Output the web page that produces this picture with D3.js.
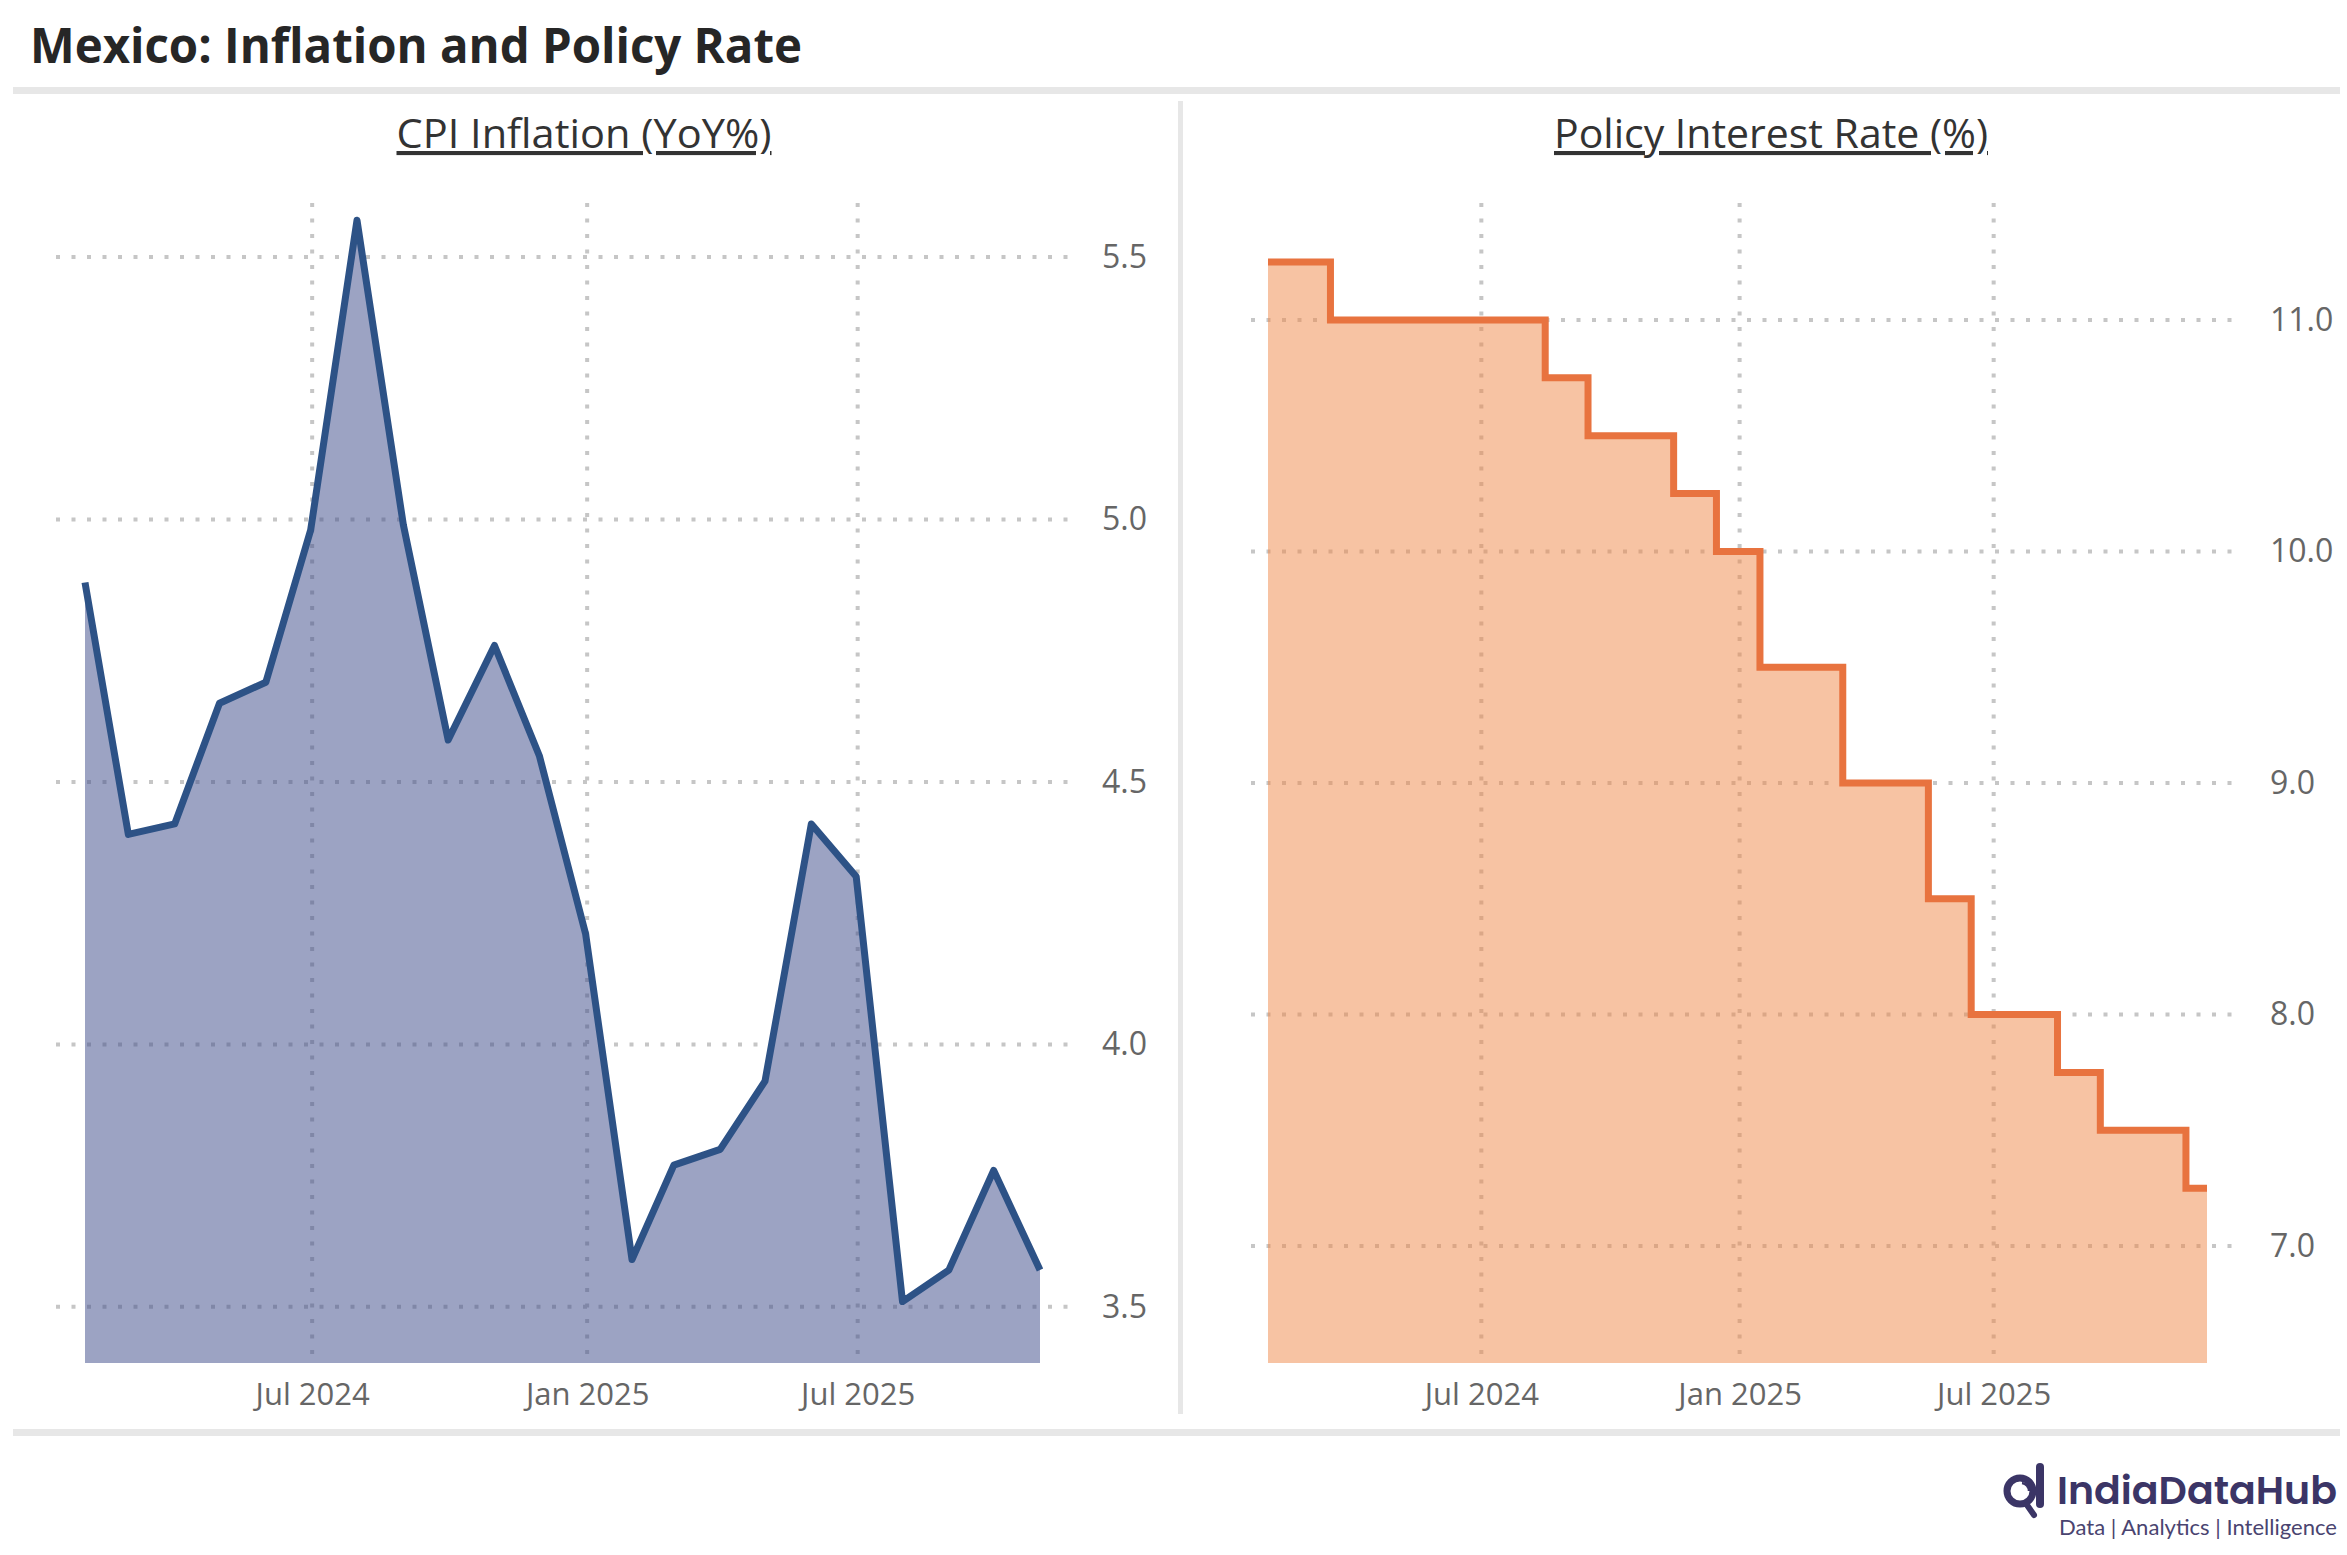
<!DOCTYPE html>
<html>
<head>
  <meta charset="utf-8" />
  <title>Mexico: Inflation and Policy Rate</title>
  <script src="https://cdn.jsdelivr.net/npm/d3@7"></script>
  <style>
    body { margin: 0; background: #fff; }
    svg { display: block; font-family: "Open Sans", "Noto Sans", sans-serif; }
  </style>
</head>
<body>
<script>
// CPI inflation, YoY % (monthly, month-end)
var cpiMonths = ["2024-01","2024-02","2024-03","2024-04","2024-05","2024-06","2024-07","2024-08",
  "2024-09","2024-10","2024-11","2024-12","2025-01","2025-02","2025-03","2025-04","2025-05",
  "2025-06","2025-07","2025-08","2025-09","2025-10"];
var cpiValues = [4.88, 4.40, 4.42, 4.65, 4.69, 4.98, 5.57, 4.99, 4.58, 4.76, 4.55, 4.21,
  3.59, 3.77, 3.80, 3.93, 4.42, 4.32, 3.51, 3.57, 3.76, 3.57];

// Policy interest rate, %
var rateMonths = ["2024-01","2024-02","2024-03","2024-04","2024-05","2024-06","2024-07","2024-08",
  "2024-09","2024-10","2024-11","2024-12","2025-01","2025-02","2025-03","2025-04","2025-05",
  "2025-06","2025-07","2025-08","2025-09","2025-10","2025-11"];
var rateValues = [11.25, 11.25, 11.0, 11.0, 11.0, 11.0, 11.0, 10.75, 10.5, 10.5, 10.25, 10.0,
  9.5, 9.5, 9.0, 9.0, 8.5, 8.0, 8.0, 7.75, 7.5, 7.5, 7.25];

var xTicks = ["2024-07-01", "2025-01-01", "2025-07-01"];
var cpiTicks = [3.5, 4.0, 4.5, 5.0, 5.5];
var rateTicks = [7.0, 8.0, 9.0, 10.0, 11.0];

var W = 2347, H = 1555;
var parseMonth = d3.timeParse("%Y-%m");
var parseDay = d3.timeParse("%Y-%m-%d");
function monthEnd(m) {
  return d3.timeDay.offset(d3.timeMonth.offset(parseMonth(m), 1), -1);
}

var svg = d3.select("body").append("svg")
  .attr("width", W)
  .attr("height", H);

function setWidth(sel, w) {
  sel.attr("textLength", w).attr("lengthAdjust", "spacingAndGlyphs");
}

// title + rules
svg.append("text")
  .attr("x", 30).attr("y", 63)
  .attr("font-size", 48).attr("font-weight", 700)
  .attr("fill", "#262626")
  .text("Mexico: Inflation and Policy Rate")
  .call(setWidth, 772);

svg.append("rect").attr("x", 13).attr("y", 87).attr("width", 2327).attr("height", 7).attr("fill", "#e7e7e7");
svg.append("rect").attr("x", 13).attr("y", 1429).attr("width", 2327).attr("height", 7).attr("fill", "#e7e7e7");
svg.append("rect").attr("x", 1178).attr("y", 101).attr("width", 5).attr("height", 1313).attr("fill", "#e7e7e7");

function panel(o) {
  var g = svg.append("g");
  var data = o.months.map(function(m, i) { return { date: monthEnd(m), value: o.values[i] }; });

  var x = d3.scaleTime()
    .domain(d3.extent(data, function(d) { return d.date; }))
    .range([o.left, o.right]);
  var y = d3.scaleLinear()
    .domain(o.yDomain)
    .range([o.bottom, o.top]);

  // subtitle
  g.append("text")
    .attr("x", o.titleX).attr("y", 148)
    .attr("text-anchor", "middle")
    .attr("font-size", 41)
    .attr("fill", "#333")
    .style("text-decoration", "underline")
    .text(o.title)
    .call(setWidth, o.titleW);

  // grid
  var tickDates = xTicks.map(parseDay);
  g.selectAll(".vgrid").data(tickDates).enter().append("line")
    .attr("x1", x).attr("x2", x)
    .attr("y1", o.top).attr("y2", o.bottom)
    .attr("stroke", "#c6c6c6").attr("stroke-width", 4)
    .attr("stroke-dasharray", "4,11.5");
  g.selectAll(".hgrid").data(o.yTicks).enter().append("line")
    .attr("x1", o.gridL).attr("x2", o.gridR)
    .attr("y1", y).attr("y2", y)
    .attr("stroke", "#c6c6c6").attr("stroke-width", 4)
    .attr("stroke-dasharray", "4,11.5");

  var area = d3.area()
    .curve(o.curve)
    .x(function(d) { return x(d.date); })
    .y0(o.bottom)
    .y1(function(d) { return y(d.value); });
  var line = d3.line()
    .curve(o.curve)
    .x(function(d) { return x(d.date); })
    .y(function(d) { return y(d.value); });

  g.append("path").datum(data)
    .attr("d", area)
    .attr("fill", o.fill).attr("fill-opacity", 0.5);
  g.append("path").datum(data)
    .attr("d", line)
    .attr("fill", "none")
    .attr("stroke", o.stroke).attr("stroke-width", 7)
    .attr("stroke-linejoin", o.join);

  // axes
  var xAxis = d3.axisBottom(x)
    .tickValues(tickDates)
    .tickFormat(d3.timeFormat("%b %Y"))
    .tickSize(0).tickPadding(0);
  g.append("g")
    .attr("transform", "translate(0,1395)")
    .call(xAxis)
    .call(function(a) {
      a.select(".domain").remove();
      a.selectAll("text").attr("font-size", 31).attr("fill", "#666")
        .attr("font-family", "Open Sans, sans-serif").attr("dy", 0).attr("y", 10);
    });

  var yAxis = d3.axisRight(y)
    .tickValues(o.yTicks)
    .tickFormat(d3.format(".1f"))
    .tickSize(0).tickPadding(0);
  g.append("g")
    .attr("transform", "translate(" + o.labelX + ",0)")
    .call(yAxis)
    .call(function(a) {
      a.select(".domain").remove();
      a.selectAll("text").attr("font-size", 32).attr("fill", "#666")
        .attr("font-family", "Open Sans, sans-serif");
    });
}

panel({
  title: "CPI Inflation (YoY%)", titleX: 584, titleW: 375,
  months: cpiMonths, values: cpiValues,
  left: 85, right: 1040, top: 203, bottom: 1363,
  yDomain: [3.393, 5.603], yTicks: cpiTicks,
  gridL: 56, gridR: 1072, labelX: 1102,
  curve: d3.curveLinear, join: "round",
  fill: "#394787", stroke: "#2d5286"
});

panel({
  title: "Policy Interest Rate (%)", titleX: 1771, titleW: 434,
  months: rateMonths, values: rateValues,
  left: 1268, right: 2207, top: 203, bottom: 1363,
  yDomain: [6.495, 11.505], yTicks: rateTicks,
  gridL: 1251, gridR: 2238, labelX: 2270,
  curve: d3.curveStep, join: "miter",
  fill: "#ef8747", stroke: "#e8733f"
});

// logo
var logo = svg.append("g").attr("fill", "#3b3566");
logo.append("circle").attr("cx", 2020).attr("cy", 1491).attr("r", 13)
  .attr("fill", "none").attr("stroke", "#3b3566").attr("stroke-width", 7);
logo.append("rect").attr("x", 2036).attr("y", 1463).attr("width", 8).attr("height", 45).attr("rx", 4);
logo.append("line").attr("x1", 2027).attr("y1", 1505).attr("x2", 2034).attr("y2", 1515)
  .attr("stroke", "#3b3566").attr("stroke-width", 6).attr("stroke-linecap", "round");
logo.append("path").attr("d", "M2022,1483 A8,8 0 0 1 2029,1491")
  .attr("fill", "none").attr("stroke", "#3b3566").attr("stroke-width", 2.5);
logo.append("text").attr("x", 2057).attr("y", 1504)
  .attr("font-size", 39).attr("font-weight", 600)
  .attr("font-family", "Poppins, Lato, sans-serif")
  .text("IndiaDataHub").call(setWidth, 280);
logo.append("text").attr("x", 2059).attr("y", 1535)
  .attr("font-size", 21).attr("fill", "#4a4470")
  .attr("font-family", "Lato, sans-serif")
  .text("Data | Analytics | Intelligence").call(setWidth, 278);
</script>
</body>
</html>
